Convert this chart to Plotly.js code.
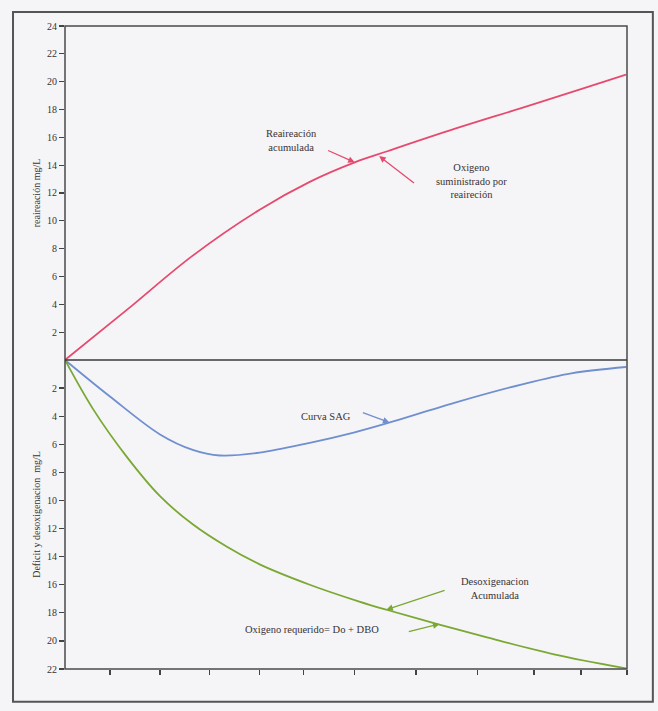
<!DOCTYPE html>
<html>
<head>
<meta charset="utf-8">
<script src="https://cdn.plot.ly/plotly-3.0.1.min.js"></script>
<style>html,body{margin:0;padding:0;background:#f5f5f7;}#chart{width:658px;height:711px;}</style>
</head>
<body>
<div id="chart"></div>
<script>
// Time axis (arbitrary units, no labels in the original)
const reaerX = [0, 1.21, 2.50, 3.81, 4.79, 5.67, 6.31, 7.62, 8.93, 10.22, 10.98];
const reaerY = [0, 3.6, 7.5, 10.8, 12.8, 14.2, 15.0, 16.6, 18.1, 19.6, 20.5];

const sagX = [0, 0.88, 1.86, 2.50, 3.03, 3.81, 4.79, 5.67, 6.31, 7.62, 8.93, 9.91, 10.98];
const sagY = [0, 2.6, 5.3, 6.4, 6.8, 6.6, 5.9, 5.15, 4.5, 3.05, 1.75, 0.95, 0.5];

const deoxX = [0, 0.55, 1.21, 1.86, 2.50, 3.17, 3.81, 4.79, 5.76, 6.31, 7.29, 8.26, 9.57, 10.98];
const deoxY = [0, 3.5, 6.9, 9.7, 11.7, 13.3, 14.55, 16.0, 17.2, 17.8, 18.8, 19.75, 20.95, 21.95];

const xTicks = [0.88, 1.86, 2.83, 3.81, 4.67, 5.67, 6.87, 8.07, 9.18, 10.1, 11];
const topTicks = [2, 4, 6, 8, 10, 12, 14, 16, 18, 20, 22, 24];
const bottomTicks = [2, 4, 6, 8, 10, 12, 14, 16, 18, 20, 22];

const topTitle = 'reaireación mg/L';
const bottomTitle = 'Deficit y desoxigenacion  mg/L';

const serif = 'Liberation Serif, Times New Roman, serif';
const txtColor = '#3a3232';
const red = '#e64a6e', blue = '#6f8fcf', green = '#7aa833';

const traces = [
  {x: reaerX, y: reaerY, xaxis: 'x', yaxis: 'y', mode: 'lines', line: {color: red, width: 1.8, shape: 'spline', smoothing: 1}, hoverinfo: 'skip'},
  {x: sagX, y: sagY, xaxis: 'x', yaxis: 'y2', mode: 'lines', line: {color: blue, width: 1.8, shape: 'spline', smoothing: 1}, hoverinfo: 'skip'},
  {x: deoxX, y: deoxY, xaxis: 'x', yaxis: 'y2', mode: 'lines', line: {color: green, width: 1.8, shape: 'spline', smoothing: 1}, hoverinfo: 'skip'}
];

const midFrac = 0.4806;

function label(text, x, y, yref) {
  return {text: text, x: x, y: y, xref: 'x', yref: yref, showarrow: false,
    font: {family: serif, size: 10.5, color: txtColor}, align: 'center'};
}
function arrow(x, y, ax, ay, yref, color) {
  return {text: '', x: x, y: y, ax: ax, ay: ay, xref: 'x', yref: yref, axref: 'x', ayref: yref,
    showarrow: true, arrowhead: 2, arrowsize: 1, arrowwidth: 1.3, arrowcolor: color, standoff: 0, startstandoff: 0};
}

const layout = {
  width: 658, height: 711,
  margin: {l: 65, r: 31, t: 26, b: 42},
  paper_bgcolor: '#f5f5f7', plot_bgcolor: '#f5f5f7',
  showlegend: false,
  font: {family: serif, size: 10, color: txtColor},
  xaxis: {range: [0, 11], anchor: 'y2', showgrid: false, zeroline: false, showline: false,
    tickmode: 'array', tickvals: xTicks, ticks: 'outside', ticklen: 5, tickcolor: '#444', tickwidth: 1.2,
    showticklabels: false},
  yaxis: {domain: [midFrac, 1], range: [0, 24], showgrid: false, zeroline: false, showline: false,
    tickmode: 'array', tickvals: topTicks, ticktext: topTicks.map(String), ticks: 'outside', ticklen: 5,
    tickcolor: '#444', tickwidth: 1.2, tickfont: {family: serif, size: 10, color: txtColor},
    title: {text: topTitle, font: {family: serif, size: 10, color: txtColor}, standoff: 4}},
  yaxis2: {domain: [0, midFrac], range: [22, 0], showgrid: false, zeroline: false, showline: false,
    tickmode: 'array', tickvals: bottomTicks, ticktext: bottomTicks.map(String), ticks: 'outside', ticklen: 5,
    tickcolor: '#444', tickwidth: 1.2, tickfont: {family: serif, size: 10, color: txtColor},
    title: {text: bottomTitle, font: {family: serif, size: 10, color: txtColor}, standoff: 4}},
  shapes: [
    {type: 'rect', xref: 'paper', yref: 'paper', x0: 0, x1: 1, y0: 0, y1: 1, line: {color: '#4a4a4a', width: 1.5}},
    {type: 'line', xref: 'paper', yref: 'paper', x0: 0, x1: 1, y0: midFrac, y1: midFrac, line: {color: '#3a3a3a', width: 1.5}},
    {type: 'rect', xref: 'paper', yref: 'paper', x0: -0.0925, x1: 1.046, y0: -0.051, y1: 1.0218, line: {color: '#555', width: 2}}
  ],
  annotations: [
    label('Reaireación<br>acumulada', 4.44, 15.8, 'y'),
    arrow(5.67, 14.2, 5.12, 15.1, 'y', red),
    label('Oxigeno<br>suministrado por<br>reaireción', 7.95, 12.86, 'y'),
    arrow(6.15, 14.65, 6.86, 12.64, 'y', red),
    label('Curva SAG', 5.1, 4.0, 'y2'),
    arrow(6.35, 4.45, 5.8, 3.71, 'y2', blue),
    label('Desoxigenacion<br>Acumulada', 8.42, 16.29, 'y2'),
    arrow(6.29, 17.78, 7.46, 16.36, 'y2', green),
    label('Oxigeno requerido= Do + DBO', 4.83, 19.21, 'y2'),
    arrow(7.33, 18.8, 6.70, 19.36, 'y2', green)
  ]
};

Plotly.newPlot('chart', traces, layout, {displayModeBar: false, staticPlot: true});
</script>
</body>
</html>
